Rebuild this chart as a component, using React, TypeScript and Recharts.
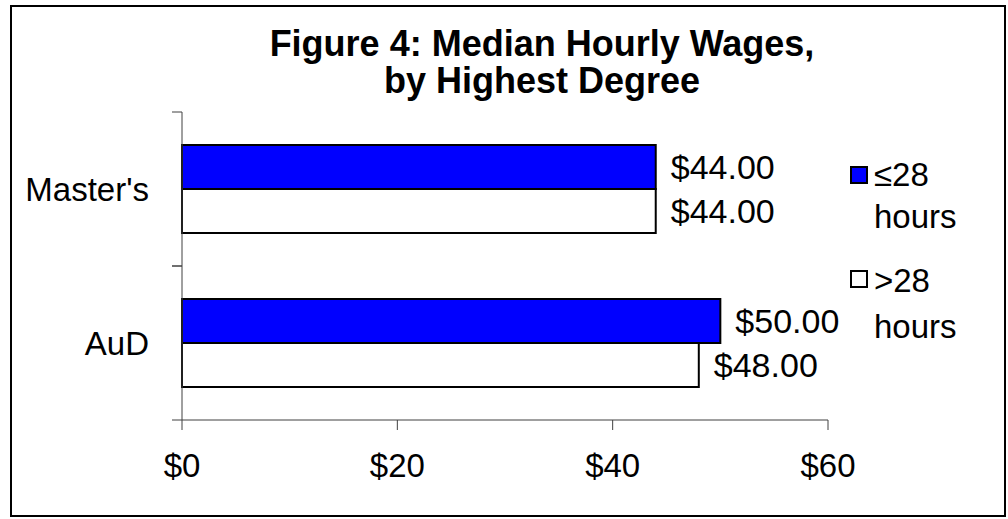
import React from "react";
import { BarChart, Bar, XAxis, YAxis, LabelList, Legend } from "recharts";

const categories = ["Master's", "AuD"];
const partTime = [44, 50]; // ≤28 hours
const fullTime = [44, 48]; // >28 hours
const xTicks = [0, 20, 40, 60];
const seriesNames = ["≤28 hours", ">28 hours"];
const title = ["Figure 4: Median Hourly Wages,", "by Highest Degree"];

const data = categories.map((name, i) => ({
  name,
  part: partTime[i],
  full: fullTime[i],
}));

const FONT = "'Liberation Sans', Arial, sans-serif";

const CategoryTick = (props: any) => {
  const { x, y, payload } = props;
  const half = payload && payload.offset ? payload.offset : 77;
  return (
    <g>
      <line x1={x - 2} x2={x + 8} y1={y - half} y2={y - half} stroke="#404040" strokeWidth={1} />
      <line x1={x - 2} x2={x + 8} y1={y + half} y2={y + half} stroke="#404040" strokeWidth={1} />
      <text x={x - 25} y={y} textAnchor="end" dominantBaseline="central" fontSize={33} fill="#000" fontFamily={FONT}>
        {payload.value}
      </text>
    </g>
  );
};

const LegendContent = (props: any) => {
  const payload = [...(props.payload || [])].sort(
    (a: any, b: any) => seriesNames.indexOf(a.value) - seriesNames.indexOf(b.value)
  );
  return (
    <div style={{ fontFamily: FONT, fontSize: 33, color: "#000" }}>
      {payload.map((p: any, i: number) => {
        const parts = String(p.value).split(" ");
        return (
          <div key={i} style={{ display: "flex", alignItems: "flex-start", marginBottom: 20 }}>
            <div
              style={{
                width: 14,
                height: 14,
                marginTop: 12,
                marginRight: 6,
                background: p.payload && p.payload.fill ? p.payload.fill : p.color,
                border: "2px solid #000",
                flex: "none",
              }}
            />
            <div style={{ lineHeight: i === 0 ? "42px" : "46px" }}>
              <div>{parts[0]}</div>
              <div>{parts.slice(1).join(" ")}</div>
            </div>
          </div>
        );
      })}
    </div>
  );
};

export default function App() {
  return (
    <div style={{ position: "absolute", left: 0, top: 0, width: 1008, height: 519, background: "#fff" }}>
      <div
        style={{
          position: "absolute",
          left: 10,
          top: 5,
          width: 996,
          height: 512,
          border: "2px solid #000",
          boxSizing: "border-box",
        }}
      />
      <div
        style={{
          position: "absolute",
          left: 182,
          width: 720,
          top: 25,
          textAlign: "center",
          fontFamily: FONT,
          fontWeight: "bold",
          fontSize: 36,
          lineHeight: "37px",
          color: "#000",
        }}
      >
        {title.map((t, i) => (
          <div key={i}>{t}</div>
        ))}
      </div>
      <div style={{ position: "absolute", left: 0, top: 0 }}>
        <BarChart
          width={1008}
          height={519}
          data={data}
          layout="vertical"
          margin={{ top: 112, right: 180, bottom: 39, left: 0 }}
          barCategoryGap="21.5%"
          barGap={0}
        >
          <XAxis
            type="number"
            domain={[0, 60]}
            ticks={xTicks}
            tickFormatter={(v: number) => `$${v}`}
            axisLine={{ stroke: "#404040", strokeWidth: 1 }}
            tickLine={{ stroke: "#404040", strokeWidth: 1 }}
            tickSize={10}
            tickMargin={24}
            height={60}
            tick={{ fontSize: 33, fill: "#000", fontFamily: FONT }}
          />
          <YAxis
            type="category"
            dataKey="name"
            width={182}
            axisLine={{ stroke: "#404040", strokeWidth: 1 }}
            tickLine={false}
            tick={<CategoryTick />}
          />
          <Legend
            layout="vertical"
            align="center"
            verticalAlign="middle"
            content={<LegendContent />}
            wrapperStyle={{ position: "absolute", left: 850, top: 154, width: 140 }}
          />
          <Bar dataKey="part" name={seriesNames[0]} fill="#0000FF" stroke="#000" strokeWidth={2} isAnimationActive={false}>
            <LabelList
              dataKey="part"
              position="right"
              offset={15}
              formatter={(v: any) => `$${Number(v).toFixed(2)}`}
              style={{ fontSize: 34, fill: "#000", fontFamily: FONT }}
            />
          </Bar>
          <Bar dataKey="full" name={seriesNames[1]} fill="#FFFFFF" stroke="#000" strokeWidth={2} isAnimationActive={false}>
            <LabelList
              dataKey="full"
              position="right"
              offset={15}
              formatter={(v: any) => `$${Number(v).toFixed(2)}`}
              style={{ fontSize: 34, fill: "#000", fontFamily: FONT }}
            />
          </Bar>
        </BarChart>
      </div>
    </div>
  );
}
